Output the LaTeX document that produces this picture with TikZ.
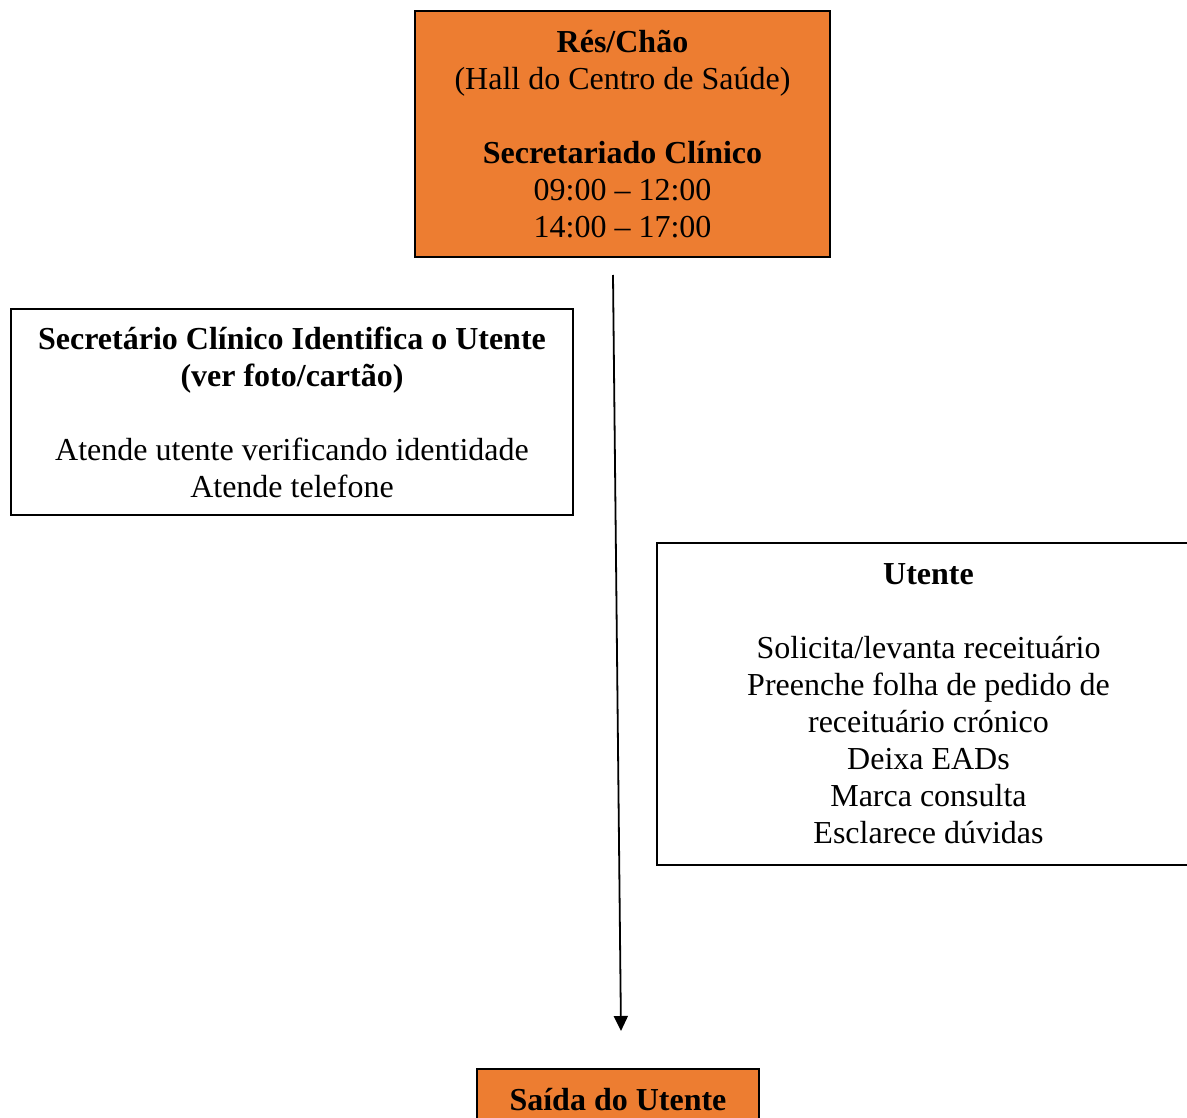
\documentclass[tikz,border=0pt]{standalone}
\usepackage{fontspec}
\setmainfont{Liberation Serif}
\usetikzlibrary{arrows.meta}
\definecolor{boxorange}{HTML}{ED7D31}
\begin{document}
\begin{tikzpicture}[x=1pt,y=-1pt,
  box/.style={draw=black,line width=1.6pt,rectangle,inner sep=0pt,align=center,
    font=\fontsize{32}{37}\selectfont},
  orangebox/.style={box,fill=boxorange},
  flow/.style={line width=1.8pt,-{Triangle[length=15pt,width=14pt]}}]
\useasboundingbox (0,0) rectangle (1187,1118);
\clip (0,0) rectangle (1187,1118);
\fill[white] (0,0) rectangle (1187,1118);
\node[orangebox,minimum width=415pt,minimum height=246pt] (top) at (622.5,134)
  {\textbf{Rés/Chão}\\(Hall do Centro de Saúde)\\[37pt]\textbf{Secretariado Clínico}\\09:00 – 12:00\\14:00 – 17:00};
\node[box,minimum width=562pt,minimum height=206pt] (left) at (292,412)
  {\textbf{Secretário Clínico Identifica o Utente}\\\textbf{(ver foto/cartão)}\\[37pt]Atende utente verificando identidade\\Atende telefone};
\node[box,minimum width=543pt,minimum height=322pt] (right) at (928.5,704)
  {\textbf{Utente}\\[37pt]Solicita/levanta receituário\\Preenche folha de pedido de\\receituário crónico\\Deixa EADs\\Marca consulta\\Esclarece dúvidas};
\node[orangebox,minimum width=282pt,minimum height=62pt] (bottom) at (618,1100)
  {\textbf{Saída do Utente}};
\coordinate (a0) at (613,275);
\coordinate (a1) at (621,1031);
\draw[flow] (a0) -- (a1);
\end{tikzpicture}
\end{document}
